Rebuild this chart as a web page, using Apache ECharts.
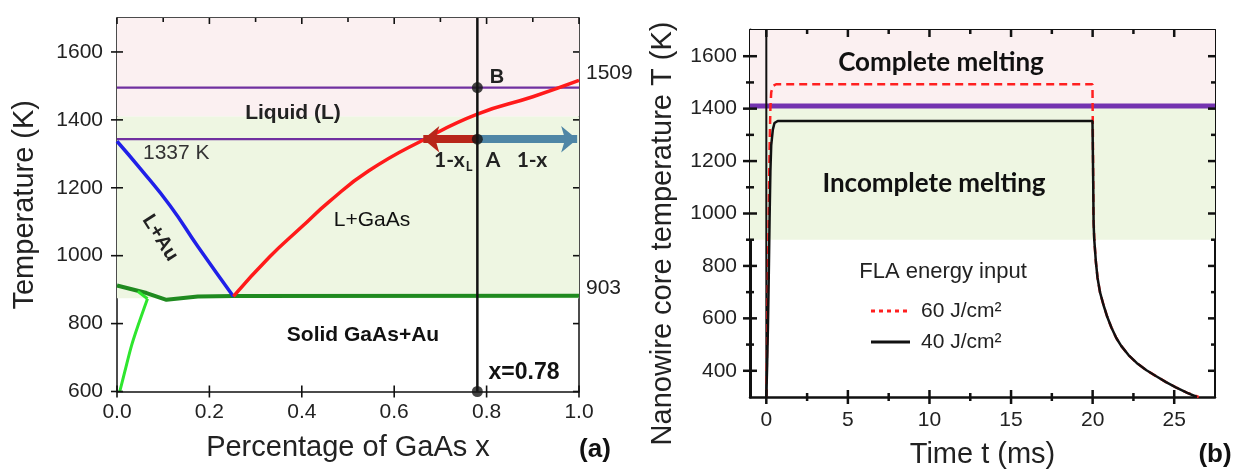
<!DOCTYPE html>
<html><head><meta charset="utf-8">
<script src="https://cdn.jsdelivr.net/npm/echarts@6/dist/echarts.min.js"></script>
<style>html,body{margin:0;padding:0;background:#fff}#c{width:1234px;height:474px}</style>
</head><body><div id="c"></div>
<script>
// ---------- Panel (a): phase diagram ----------
const aXRange = [0, 1.0];
const aYRange = [600, 1700];
const aXTicksStep = 0.2;
const aYTicksStep = 200;
const aXMajor = [0, 0.2, 0.4, 0.6, 0.8, 1.0];
const aXMinor = [0.1, 0.3, 0.5, 0.7, 0.9];
const aYMajor = [600, 800, 1000, 1200, 1400, 1600];
const aBandLiquid = [1410, 1700];
const aBandPartial = [875, 1410];
const auLiquidus = [[0,1337],[0.05,1257],[0.115,1147],[0.175,1027],[0.252,880]];
const gaasLiquidus = [[0.252,880],[0.33,996],[0.40,1085],[0.46,1160],[0.545,1250],[0.666,1343],[0.78,1417],[0.9,1468],[1.0,1516]];
const solidus = [[0,912],[0.064,890],[0.107,870],[0.175,880],[0.252,881],[1.0,882]];
const auSolvus = [[0.006,600],[0.017,659],[0.031,733],[0.045,792],[0.066,873]];
const auSolvusTail = [[0.066,873],[0.045,895]];
const tempB = 1495;          // upper isotherm (point B)
const tempA = 1343;          // lower isotherm (point A, 1337 K)
const xComp = 0.78;          // composition x
const xLiq = 0.663;          // liquidus composition at T_A
const compPoints = [[0.78,1495],[0.78,1343],[0.78,600]];

// ---------- Panel (b): core temperature vs time ----------
const bXRange = [-1, 27.5];
const bYRange = [300, 1700];
const bXMajor = [0, 5, 10, 15, 20, 25];
const bXMinor = [2.5, 7.5, 12.5, 17.5, 22.5];
const bYMajor = [400, 600, 800, 1000, 1200, 1400, 1600];
const bYMinor = [500, 700, 900, 1100, 1300, 1500];
const bBandComplete = [1410, 1700];
const bBandIncomplete = [900, 1410];
const bMeltLine = 1410;
const pulse60 = [[0,300],[0.05,500],[0.1,760],[0.15,1010],[0.2,1250],[0.25,1400],[0.3,1462],[0.4,1486],[0.6,1493],
  [19.99,1493],[20.02,1250],[20.05,1000],[20.1,900],[20.2,815],[20.3,755],[20.45,700],[20.67,650],[20.9,605],[21.15,565],
  [21.45,525],[21.75,495],[22.2,460],[22.7,430],[23.3,402],[23.9,379],[24.5,357],[25.1,337],[25.8,316],[26.5,300]];
const pulse40 = [[0,300],[0.05,420],[0.1,570],[0.15,760],[0.2,980],[0.25,1160],[0.3,1260],[0.4,1320],[0.5,1345],[0.7,1353],
  [19.99,1353],[20.03,1150],[20.06,960],[20.1,900],[20.2,815],[20.3,755],[20.45,700],[20.67,650],[20.9,605],[21.15,565],
  [21.45,525],[21.75,495],[22.2,460],[22.7,430],[23.3,402],[23.9,379],[24.5,357],[25.1,337],[25.8,316],[26.4,300]];

const SANS = '"Liberation Sans", Arial, sans-serif';
const CAL = 'Lato, "Open Sans", sans-serif';
const chart = echarts.init(document.getElementById('c'));

// tick items: [value, isY(0/1), isMajor(0/1)]
function tickItems(xMaj, xMin, yMaj, yMin) {
  const out = [];
  xMaj.forEach(v => out.push([v, 0, 1]));
  xMin.forEach(v => out.push([v, 0, 0]));
  yMaj.forEach(v => out.push([v, 1, 1]));
  yMin.forEach(v => out.push([v, 1, 0]));
  return out;
}
function tickRenderer(xr, yr, majLen, minLen, width, minorBottom) {
  return function (params, api) {
    const v = api.value(0), isY = api.value(1), major = api.value(2);
    const L = major ? majLen : minLen;
    const st = { stroke: '#111', lineWidth: width };
    const ch = [];
    if (!isY) {
      const b = api.coord([v, yr[0]]), t = api.coord([v, yr[1]]);
      if (major || minorBottom) ch.push({ type: 'line', shape: { x1: b[0], y1: b[1] - L, x2: b[0], y2: b[1] + L }, style: st });
      ch.push({ type: 'line', shape: { x1: t[0], y1: t[1], x2: t[0], y2: t[1] + L }, style: st });
    } else {
      const l = api.coord([xr[0], v]), r = api.coord([xr[1], v]);
      ch.push({ type: 'line', shape: { x1: l[0] - L, y1: l[1], x2: l[0] + L, y2: l[1] }, style: st });
      ch.push({ type: 'line', shape: { x1: r[0] - L, y1: r[1], x2: r[0], y2: r[1] }, style: st });
    }
    return { type: 'group', children: ch };
  };
}

function mkAxis(grid, pos, opts) {
  return Object.assign({
    type: 'value', gridIndex: grid, position: pos,
    splitLine: { show: false },
    axisLine: { show: true, onZero: false, lineStyle: { color: '#111', width: 1.5 } },
    axisTick: { show: false },
    axisLabel: { show: false }
  }, opts);
}
const aAxisX = { min: aXRange[0], max: aXRange[1], interval: aXTicksStep };
const aAxisY = { min: aYRange[0], max: aYRange[1], interval: aYTicksStep };
const bAxisX = { min: bXRange[0], max: bXRange[1], splitNumber: 6 };
const bAxisY = { min: bYRange[0], max: bYRange[1], splitNumber: 7 };

const option = {
  backgroundColor: '#fff',
  animation: false,
  grid: [
    { left: 117, top: 18, width: 462, height: 373.5 },
    { left: 750, top: 30, width: 465, height: 374.3 }
  ],
  xAxis: [
    mkAxis(0, 'bottom', Object.assign({}, aAxisX, {
      axisLabel: { show: true, fontSize: 21, color: '#222', fontFamily: SANS, margin: 10,
        formatter: v => v.toFixed(1) },
      name: 'Percentage of GaAs x', nameLocation: 'middle', nameGap: 42,
      nameTextStyle: { fontSize: 29, color: '#222', fontFamily: SANS }
    })),
    mkAxis(0, 'top', Object.assign({}, aAxisX)),
    mkAxis(1, 'bottom', Object.assign({}, bAxisX, {
      axisLine: { show: true, onZero: false, lineStyle: { color: '#111', width: 2.5 } },
      axisLabel: { show: true, fontSize: 21, color: '#222', fontFamily: SANS, margin: 13,
        formatter: v => (Math.abs(v % 5) < 1e-9 ? String(v) : '') },
      name: 'Time t (ms)', nameLocation: 'middle', nameGap: 43,
      nameTextStyle: { fontSize: 29, color: '#222', fontFamily: SANS }
    })),
    mkAxis(1, 'top', Object.assign({}, bAxisX, { axisLine: { show: true, onZero: false, lineStyle: { color: '#111', width: 2 } } }))
  ],
  yAxis: [
    mkAxis(0, 'left', Object.assign({}, aAxisY, {
      axisLabel: { show: true, fontSize: 21, color: '#222', fontFamily: SANS, margin: 14,
        formatter: v => (v % 200 === 0 ? String(v) : '') },
      name: 'Temperature (K)', nameLocation: 'middle', nameGap: 78,
      nameTextStyle: { fontSize: 29, color: '#222', fontFamily: SANS }
    })),
    mkAxis(0, 'right', Object.assign({}, aAxisY)),
    mkAxis(1, 'left', Object.assign({}, bAxisY, {
      axisLine: { show: true, onZero: false, lineStyle: { color: '#111', width: 3 } },
      axisLabel: { show: true, fontSize: 21, color: '#222', fontFamily: SANS, margin: 13,
        formatter: v => (v % 200 === 0 && v > 300 && v < 1700 ? String(v) : '') },
      name: 'Nanowire core temperature T (K)', nameLocation: 'middle', nameGap: 73,
      nameTextStyle: { fontSize: 29, color: '#222', fontFamily: SANS, padding: [0, 40, 0, 0] }
    })),
    mkAxis(1, 'right', Object.assign({}, bAxisY, { axisLine: { show: true, onZero: false, lineStyle: { color: '#111', width: 2 } } }))
  ],
  series: [
    // ---- panel (a) ----
    { type: 'line', xAxisIndex: 0, yAxisIndex: 0, data: [], z: 0, silent: true,
      markArea: { silent: true, data: [
        [{ coord: [aXRange[0], aBandLiquid[0]], itemStyle: { color: '#fbf0f1' } }, { coord: [aXRange[1], aBandLiquid[1]] }],
        [{ coord: [aXRange[0], aBandPartial[0]], itemStyle: { color: '#eef6e2' } }, { coord: [aXRange[1], aBandPartial[1]] }]
      ] } },
    { type: 'custom', xAxisIndex: 0, yAxisIndex: 0, z: 20, silent: true, clip: false,
      renderItem: tickRenderer(aXRange, aYRange, 6, 4, 1.6, false),
      data: tickItems(aXMajor, aXMinor, aYMajor, []) },
    { type: 'line', xAxisIndex: 0, yAxisIndex: 0, symbol: 'none', z: 3,
      data: [[aXRange[0], tempB], [aXRange[1], tempB]], lineStyle: { color: '#7030a0', width: 2.2 } },
    { type: 'line', xAxisIndex: 0, yAxisIndex: 0, symbol: 'none', z: 3,
      data: [[aXRange[0], tempA], [xLiq, tempA]], lineStyle: { color: '#7030a0', width: 2.2 } },
    { type: 'line', xAxisIndex: 0, yAxisIndex: 0, symbol: 'none', z: 3,
      data: solidus, lineStyle: { color: '#1f8a1f', width: 4 } },
    { type: 'line', xAxisIndex: 0, yAxisIndex: 0, symbol: 'none', z: 3, smooth: 0.3,
      data: auSolvus, lineStyle: { color: '#2ee62e', width: 3 } },
    { type: 'line', xAxisIndex: 0, yAxisIndex: 0, symbol: 'none', z: 3,
      data: auSolvusTail, lineStyle: { color: '#2ee62e', width: 3 } },
    { type: 'line', xAxisIndex: 0, yAxisIndex: 0, symbol: 'none', z: 4, smooth: 0.5,
      data: auLiquidus, lineStyle: { color: '#2020e8', width: 3.5 } },
    { type: 'line', xAxisIndex: 0, yAxisIndex: 0, symbol: 'none', z: 4, smooth: 0.5,
      data: gaasLiquidus, lineStyle: { color: '#ff1a1a', width: 3.5 } },
    { type: 'line', xAxisIndex: 0, yAxisIndex: 0, symbol: 'none', z: 6,
      data: [[xComp, aYRange[0]], [xComp, aYRange[1]]], lineStyle: { color: '#111', width: 2.5 },
      markLine: { silent: true, symbol: ['none', 'arrow'], symbolSize: [20, 16], label: { show: false },
        data: [
          [{ coord: [xComp, tempA], lineStyle: { color: '#b8261a', width: 8, type: 'solid' }, itemStyle: { color: '#b8261a' } }, { coord: [xLiq, tempA] }],
          [{ coord: [xComp, tempA], lineStyle: { color: '#4f86a6', width: 8, type: 'solid' }, itemStyle: { color: '#4f86a6' } }, { coord: [aXRange[1] - 0.004, tempA] }]
        ] } },
    { type: 'scatter', xAxisIndex: 0, yAxisIndex: 0, z: 8, symbolSize: 11,
      data: compPoints, itemStyle: { color: '#151515' } },
    // ---- panel (b) ----
    { type: 'line', xAxisIndex: 2, yAxisIndex: 2, data: [], z: 0, silent: true,
      markArea: { silent: true, data: [
        [{ coord: [bXRange[0], bBandComplete[0]], itemStyle: { color: '#fbf0f1' } }, { coord: [bXRange[1], bBandComplete[1]] }],
        [{ coord: [bXRange[0], bBandIncomplete[0]], itemStyle: { color: '#eef6e2' } }, { coord: [bXRange[1], bBandIncomplete[1]] }]
      ] } },
    { type: 'custom', xAxisIndex: 2, yAxisIndex: 2, z: 20, silent: true, clip: false,
      renderItem: tickRenderer(bXRange, bYRange, 7, 4, 2.5, true),
      data: tickItems(bXMajor, bXMinor, bYMajor, bYMinor) },
    { type: 'line', xAxisIndex: 2, yAxisIndex: 2, symbol: 'none', z: 3,
      data: [[bXRange[0], bMeltLine], [bXRange[1], bMeltLine]], lineStyle: { color: '#7433b0', width: 5 } },
    { type: 'line', xAxisIndex: 2, yAxisIndex: 2, symbol: 'none', z: 4,
      data: [[0, bYRange[0]], [0, bYRange[1]]], lineStyle: { color: '#111', width: 2 } },
    { type: 'line', xAxisIndex: 2, yAxisIndex: 2, symbol: 'none', z: 5, name: '60 J/cm²',
      data: pulse60, lineStyle: { color: '#ff2020', width: 2.5, type: [8, 5] } },
    { type: 'line', xAxisIndex: 2, yAxisIndex: 2, symbol: 'none', z: 6, name: '40 J/cm²',
      data: pulse40, lineStyle: { color: '#111', width: 2.5 } }
  ],
  graphic: [
    { type: 'text', x: 293, y: 113, z: 50, style: { text: 'Liquid (L)', font: 'bold 21px ' + SANS, fill: '#222', align: 'center', verticalAlign: 'middle', textAlign: 'center', textVerticalAlign: 'middle' } },
    { type: 'text', x: 143, y: 153, z: 50, style: { text: '1337 K', font: '21px ' + SANS, fill: '#333', align: 'left', verticalAlign: 'middle', textAlign: 'left', textVerticalAlign: 'middle' } },
    { type: 'text', x: 160, y: 238, z: 50, rotation: -58 * Math.PI / 180, style: { text: 'L+Au', font: 'bold 20px ' + SANS, fill: '#222', align: 'center', verticalAlign: 'middle', textAlign: 'center', textVerticalAlign: 'middle' } },
    { type: 'text', x: 372, y: 220, z: 50, style: { text: 'L+GaAs', font: '21px ' + SANS, fill: '#111', align: 'center', verticalAlign: 'middle', textAlign: 'center', textVerticalAlign: 'middle' } },
    { type: 'text', x: 363, y: 335, z: 50, style: { text: 'Solid GaAs+Au', font: 'bold 21px ' + SANS, fill: '#111', align: 'center', verticalAlign: 'middle', textAlign: 'center', textVerticalAlign: 'middle' } },
    { type: 'text', x: 524, y: 373, z: 50, style: { text: 'x=0.78', font: 'bold 23px ' + SANS, fill: '#111', align: 'center', verticalAlign: 'middle', textAlign: 'center', textVerticalAlign: 'middle' } },
    { type: 'text', x: 497, y: 77, z: 50, style: { text: 'B', font: 'bold 20px ' + SANS, fill: '#222', align: 'center', verticalAlign: 'middle', textAlign: 'center', textVerticalAlign: 'middle' } },
    { type: 'text', x: 493, y: 160, z: 50, style: { text: 'A', font: 'bold 21px ' + CAL, fill: '#222', align: 'center', verticalAlign: 'middle', textAlign: 'center', textVerticalAlign: 'middle' } },
    { type: 'text', x: 434, y: 160, z: 50, style: { text: '1-x{sub|L}', font: 'bold 21px ' + CAL, fill: '#222', align: 'left', verticalAlign: 'middle', textAlign: 'left', textVerticalAlign: 'middle',
        rich: { sub: { font: 'bold 13px ' + CAL, fill: '#222', padding: [14, 0, 0, 1] } } } },
    { type: 'text', x: 532, y: 160, z: 50, style: { text: '1-x', font: 'bold 21px ' + CAL, fill: '#222', align: 'center', verticalAlign: 'middle', textAlign: 'center', textVerticalAlign: 'middle' } },
    { type: 'text', x: 586, y: 73, z: 50, style: { text: '1509', font: '21px ' + SANS, fill: '#222', align: 'left', verticalAlign: 'middle', textAlign: 'left', textVerticalAlign: 'middle' } },
    { type: 'text', x: 586, y: 288, z: 50, style: { text: '903', font: '21px ' + SANS, fill: '#222', align: 'left', verticalAlign: 'middle', textAlign: 'left', textVerticalAlign: 'middle' } },
    { type: 'text', x: 595, y: 450, z: 50, style: { text: '(a)', font: 'bold 26px ' + SANS, fill: '#111', align: 'center', verticalAlign: 'middle', textAlign: 'center', textVerticalAlign: 'middle' } },
    { type: 'text', x: 941, y: 63, z: 50, style: { text: 'Complete melting', font: 'bold 26px ' + CAL, fill: '#111', align: 'center', verticalAlign: 'middle', textAlign: 'center', textVerticalAlign: 'middle' } },
    { type: 'text', x: 934, y: 184, z: 50, style: { text: 'Incomplete melting', font: 'bold 26px ' + CAL, fill: '#111', align: 'center', verticalAlign: 'middle', textAlign: 'center', textVerticalAlign: 'middle' } },
    { type: 'text', x: 943, y: 272, z: 50, style: { text: 'FLA energy input', font: '22px ' + SANS, fill: '#222', align: 'center', verticalAlign: 'middle', textAlign: 'center', textVerticalAlign: 'middle' } },
    { type: 'line', z: 50, shape: { x1: 871, y1: 311, x2: 908, y2: 311 }, style: { stroke: '#ff2020', lineWidth: 3, lineDash: [4, 4] } },
    { type: 'text', x: 921, y: 311, z: 50, style: { text: '60 J/cm²', font: '21px ' + SANS, fill: '#222', align: 'left', verticalAlign: 'middle', textAlign: 'left', textVerticalAlign: 'middle' } },
    { type: 'line', z: 50, shape: { x1: 871, y1: 342, x2: 910, y2: 342 }, style: { stroke: '#111', lineWidth: 3 } },
    { type: 'text', x: 921, y: 342, z: 50, style: { text: '40 J/cm²', font: '21px ' + SANS, fill: '#222', align: 'left', verticalAlign: 'middle', textAlign: 'left', textVerticalAlign: 'middle' } },
    { type: 'text', x: 1215, y: 455, z: 50, style: { text: '(b)', font: 'bold 26px ' + SANS, fill: '#111', align: 'center', verticalAlign: 'middle', textAlign: 'center', textVerticalAlign: 'middle' } }
  ]
};
chart.setOption(option);
</script></body></html>
